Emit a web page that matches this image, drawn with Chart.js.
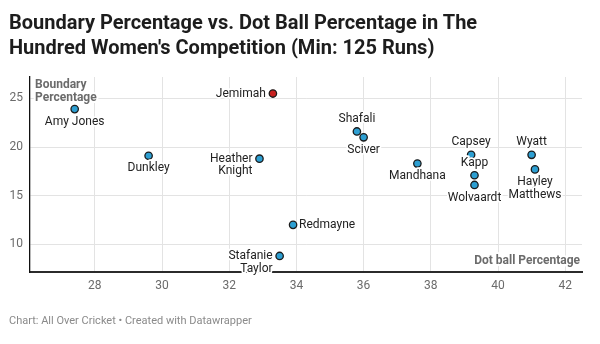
<!DOCTYPE html>
<html>
<head>
<meta charset="utf-8">
<script src="https://cdn.jsdelivr.net/npm/chart.js@4.4.1/dist/chart.umd.min.js"></script>
<style>
  html, body { margin: 0; padding: 0; background: #fff; }
  body { width: 600px; height: 344px; overflow: hidden; position: relative; font-family: Roboto, "Noto Sans", sans-serif; }
  #title { position: absolute; left: 9px; top: 10px; font-weight: 700; font-size: 20px; line-height: 25px; color: #1d1d1d; margin: 0; }
  #foot { position: absolute; left: 9px; top: 314px; font-size: 11px; color: #8a8a8a; }
  #c { position: absolute; left: 0; top: 0; }
</style>
</head>
<body>
<canvas id="c" width="600" height="344"></canvas>
<h1 id="title">Boundary Percentage vs. Dot Ball Percentage in The<br>Hundred Women's Competition (Min: 125 Runs)</h1>
<div id="foot">Chart: All Over Cricket • Created with Datawrapper</div>
<script>
// ---- data ----
const players = ["Jemimah", "Amy Jones", "Dunkley", "Heather Knight", "Shafali", "Sciver",
  "Mandhana", "Capsey", "Kapp", "Wolvaardt", "Wyatt", "Hayley Matthews", "Redmayne", "Stafanie Taylor"];
const dotBallPct = [33.3, 27.4, 29.6, 32.9, 35.8, 36.0, 37.6, 39.2, 39.3, 39.3, 41.0, 41.1, 33.9, 33.5];
const boundaryPct = [25.5, 23.9, 19.1, 18.8, 21.6, 21.0, 18.3, 19.2, 17.1, 16.1, 19.2, 17.7, 12.0, 8.8];
const highlighted = ["Jemimah"];
const xTicks = [28, 30, 32, 34, 36, 38, 40, 42];
const yTicks = [10, 15, 20, 25];
const xAxisTitle = "Dot ball Percentage";
const yAxisTitle = ["Boundary", "Percentage"];

// ---- label layout (style, not data) ----
const labelLayout = {
  "Jemimah": { pos: "left", lines: ["Jemimah"] },
  "Amy Jones": { pos: "below", lines: ["Amy Jones"] },
  "Dunkley": { pos: "below", lines: ["Dunkley"] },
  "Heather Knight": { pos: "left", lines: ["Heather", "Knight"] },
  "Shafali": { pos: "above", lines: ["Shafali"] },
  "Sciver": { pos: "below", lines: ["Sciver"] },
  "Mandhana": { pos: "below", lines: ["Mandhana"] },
  "Capsey": { pos: "above", lines: ["Capsey"] },
  "Kapp": { pos: "above", lines: ["Kapp"] },
  "Wolvaardt": { pos: "below", lines: ["Wolvaardt"] },
  "Wyatt": { pos: "above", lines: ["Wyatt"] },
  "Hayley Matthews": { pos: "below", lines: ["Hayley", "Matthews"] },
  "Redmayne": { pos: "right", lines: ["Redmayne"] },
  "Stafanie Taylor": { pos: "left", lines: ["Stafanie", "Taylor"] }
};

const points = players.map((p, i) => ({ x: dotBallPct[i], y: boundaryPct[i] }));
const fills = players.map(p => highlighted.includes(p) ? "#c8201f" : "#2d9fd2");

function haloText(ctx, t, x, y) {
  ctx.strokeText(t, x, y);
  ctx.fillText(t, x, y);
}

const labelPlugin = {
  id: "labels",
  afterDraw(chart) {
    const ctx = chart.ctx;
    const xs = chart.scales.x, ys = chart.scales.y;
    const ca = chart.chartArea;
    ctx.save();
    ctx.lineJoin = "round";
    ctx.strokeStyle = "#ffffff";
    ctx.lineWidth = 4;
    ctx.textBaseline = "middle";
    // axis titles
    ctx.font = "700 12px Roboto";
    ctx.fillStyle = "#6b6b6b";
    ctx.textAlign = "left";
    haloText(ctx, yAxisTitle[0], ca.left + 5, ca.top + 7.5);
    haloText(ctx, yAxisTitle[1], ca.left + 5, ca.top + 21);
    ctx.textAlign = "right";
    haloText(ctx, xAxisTitle, ca.right - 2, ca.bottom - 11.5);
    // point labels
    ctx.font = "400 12px Roboto";
    ctx.fillStyle = "#222222";
    ctx.lineWidth = 3.5;
    players.forEach((p, i) => {
      const L = labelLayout[p];
      const px = xs.getPixelForValue(dotBallPct[i]);
      const py = ys.getPixelForValue(boundaryPct[i]);
      const lh = 12.8;
      L.lines.forEach((t, k) => {
        let x = px, y = py;
        if (L.pos === "left") { ctx.textAlign = "right"; x = px - 7; y = py + k * lh; }
        else if (L.pos === "right") { ctx.textAlign = "left"; x = px + 6; y = py + k * lh; }
        else if (L.pos === "above") { ctx.textAlign = "center"; y = py - 12.6 - (L.lines.length - 1 - k) * lh; }
        else { ctx.textAlign = "center"; y = py + 12.6 + k * lh; }
        haloText(ctx, t, x, y);
      });
    });
    ctx.restore();
  }
};

new Chart(document.getElementById("c"), {
  type: "scatter",
  data: {
    datasets: [{
      data: points,
      backgroundColor: fills,
      borderColor: "#1b1b1b",
      borderWidth: 1.3,
      pointRadius: 3.7,
      clip: false
    }]
  },
  options: {
    responsive: false,
    animation: false,
    events: [],
    layout: { padding: { left: 0, right: 18, top: 77, bottom: 42 } },
    plugins: { legend: { display: false }, tooltip: { enabled: false } },
    scales: {
      x: {
        type: "linear", min: 26.07, max: 42.5,
        afterBuildTicks: s => { s.ticks = xTicks.map(v => ({ value: v })); },
        afterFit: s => { s.height = 30; },
        grid: { color: "#e3e3e3", lineWidth: 1, drawTicks: false },
        border: { display: true, color: "#2b2b2b", width: 2 },
        ticks: { padding: 7, color: "#6b6b6b", font: { family: "Roboto", size: 12 } }
      },
      y: {
        type: "linear", min: 7.15, max: 27.2,
        afterBuildTicks: s => { s.ticks = yTicks.map(v => ({ value: v })); },
        afterFit: s => { s.width = 30; },
        grid: { color: "#e3e3e3", lineWidth: 1, drawTicks: false },
        border: { display: true, color: "#111111", width: 1.3 },
        ticks: { padding: 7, color: "#6b6b6b", font: { family: "Roboto", size: 12 } }
      }
    }
  },
  plugins: [labelPlugin]
});
</script>
</body>
</html>
